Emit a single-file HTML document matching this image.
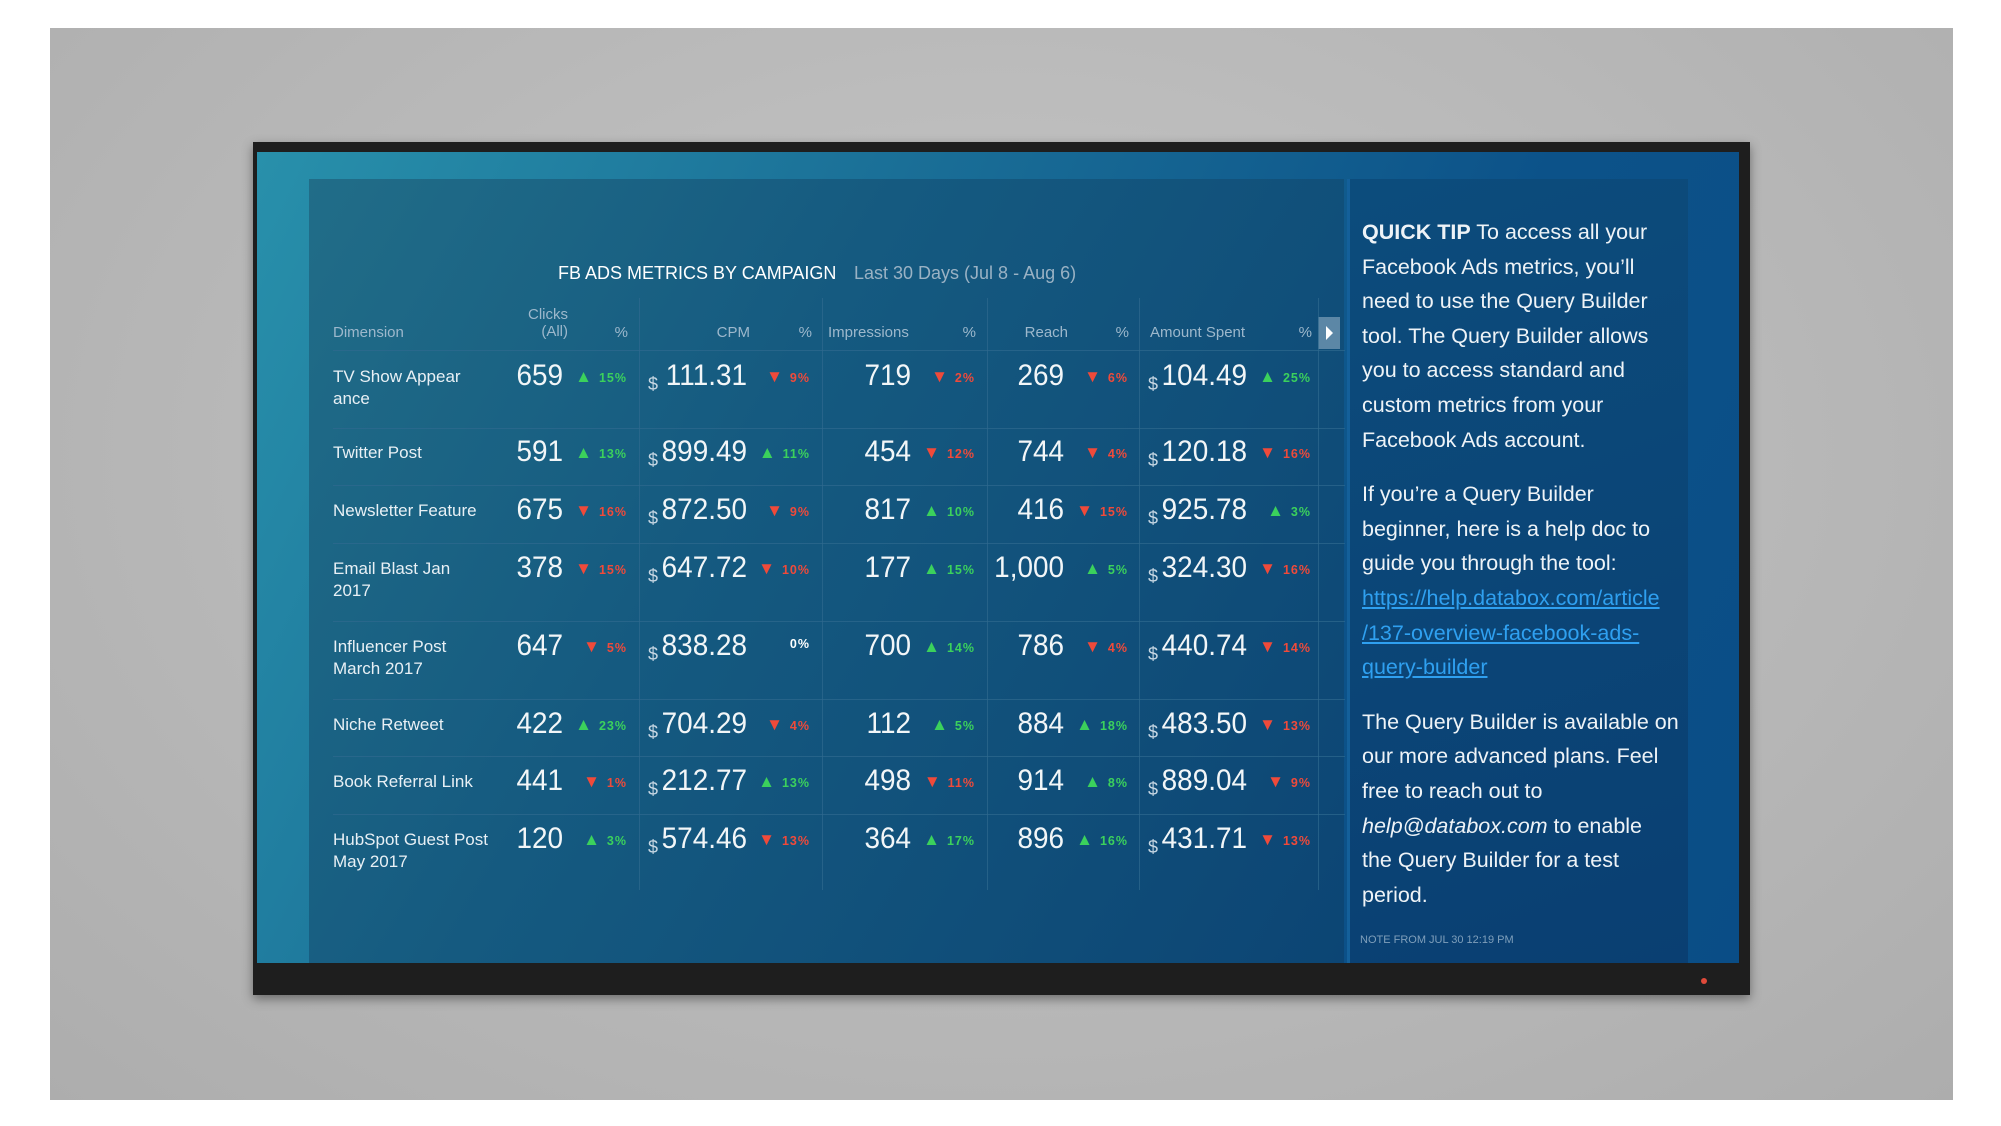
<!DOCTYPE html>
<html><head><meta charset="utf-8"><style>
*{margin:0;padding:0;box-sizing:border-box}
body{width:2001px;height:1126px;background:#fff;position:relative;overflow:hidden;font-family:"Liberation Sans",sans-serif}
.a{position:absolute}
#wall{left:50px;top:28px;width:1903px;height:1072px;background:radial-gradient(ellipse at 50% 40%,#c6c6c6,#adadad)}
#frame{left:253px;top:142px;width:1497px;height:853px;background:#1e1e1e;box-shadow:0 4px 10px rgba(0,0,0,.4)}
#screen{left:257px;top:152px;width:1482px;height:811px;background:linear-gradient(115deg,#2890ab 0%,#1a6f97 35%,#0c5289 70%,#0a4d86 100%)}
#panel{left:309px;top:179px;width:1035px;height:784px;background:linear-gradient(120deg,#216d88 0%,#155a80 40%,#0c4574 100%)}
#tip{left:1347px;top:179px;width:341px;height:784px;background:linear-gradient(160deg,#0c4c7c,#0a3f72);border-left:3px solid #14609a}
.t{color:#fff;white-space:nowrap}
.h{color:#9db8cc;font-size:15px}
.d{color:#e8f0f5;font-size:17px;line-height:22px}
.n{color:#f2f6f8;font-size:30px;text-align:right;transform:scaleX(.93);transform-origin:right center}
.p{font-size:12.5px;font-weight:bold;text-align:right;letter-spacing:1px}
.g{color:#3bd15c}.r{color:#f04a3a}.w{color:#fff}
.s{color:#c8d8e4;font-size:18px}
.hl{background:#2f6a8e;height:1px;opacity:.7}
.vl{background:#2f6a8e;width:1px;opacity:.7}
#tiptext{left:1362px;top:215px;width:330px;color:#eef3f7;font-size:21.5px;line-height:34.6px;white-space:nowrap}
#tiptext p{margin-bottom:20px}
#tiptext a{color:#2fa0f0;text-decoration:underline}
</style></head><body>
<div id="wall" class="a"></div>
<div id="frame" class="a"></div>
<div id="screen" class="a"></div>
<div id="panel" class="a"></div>
<div id="tip" class="a"></div>
<div class="a" style="left:1701px;top:978px;width:6px;height:6px;border-radius:3px;background:#e04a3a"></div>

<div class="a t" style="left:558px;top:263px;font-size:18px">FB ADS METRICS BY CAMPAIGN</div>
<div class="a t" style="left:854px;top:263px;font-size:18px;color:#9ab2c4">Last 30 Days (Jul 8 - Aug 6)</div>

<div class="a h" style="left:333px;top:324px">Dimension</div>
<div class="a h" style="left:510px;top:306px;width:58px;text-align:right;line-height:17px">Clicks<br>(All)</div>
<div class="a h" style="left:610px;top:324px;width:18px;text-align:right">%</div>
<div class="a h" style="left:700px;top:324px;width:50px;text-align:right">CPM</div>
<div class="a h" style="left:794px;top:324px;width:18px;text-align:right">%</div>
<div class="a h" style="left:828px;top:324px">Impressions</div>
<div class="a h" style="left:958px;top:324px;width:18px;text-align:right">%</div>
<div class="a h" style="left:1010px;top:324px;width:58px;text-align:right">Reach</div>
<div class="a h" style="left:1111px;top:324px;width:18px;text-align:right">%</div>
<div class="a h" style="left:1150px;top:324px">Amount Spent</div>
<div class="a h" style="left:1294px;top:324px;width:18px;text-align:right">%</div>
<div class="a" style="left:1318px;top:317px;width:22px;height:32px;background:#5c87a6"></div>
<div class="a" style="left:1326px;top:326px;width:0;height:0;border-top:7px solid transparent;border-bottom:7px solid transparent;border-left:7px solid #fff"></div>

<div class="a hl" style="left:333px;top:350px;width:1012px"></div>
<div class="a hl" style="left:333px;top:428px;width:1012px"></div>
<div class="a hl" style="left:333px;top:485px;width:1012px"></div>
<div class="a hl" style="left:333px;top:543px;width:1012px"></div>
<div class="a hl" style="left:333px;top:621px;width:1012px"></div>
<div class="a hl" style="left:333px;top:699px;width:1012px"></div>
<div class="a hl" style="left:333px;top:756px;width:1012px"></div>
<div class="a hl" style="left:333px;top:814px;width:1012px"></div>
<div class="a vl" style="left:639px;top:298px;height:592px"></div>
<div class="a vl" style="left:822px;top:298px;height:592px"></div>
<div class="a vl" style="left:987px;top:298px;height:592px"></div>
<div class="a vl" style="left:1139px;top:298px;height:592px"></div>
<div class="a vl" style="left:1318px;top:298px;height:592px"></div>

<div id="rows"></div>
<script>
var R=[
["TV Show Appear<br>ance",378,"659","g","15%","111.31","r","9%","719","r","2%","269","r","6%","104.49","g","25%"],
["Twitter Post",454,"591","g","13%","899.49","g","11%","454","r","12%","744","r","4%","120.18","r","16%"],
["Newsletter Feature",512,"675","r","16%","872.50","r","9%","817","g","10%","416","r","15%","925.78","g","3%"],
["Email Blast Jan<br>2017",570,"378","r","15%","647.72","r","10%","177","g","15%","1,000","g","5%","324.30","r","16%"],
["Influencer Post<br>March 2017",648,"647","r","5%","838.28","w","0%","700","g","14%","786","r","4%","440.74","r","14%"],
["Niche Retweet",726,"422","g","23%","704.29","r","4%","112","g","5%","884","g","18%","483.50","r","13%"],
["Book Referral Link",783,"441","r","1%","212.77","g","13%","498","r","11%","914","g","8%","889.04","r","9%"],
["HubSpot Guest Post<br>May 2017",841,"120","g","3%","574.46","r","13%","364","g","17%","896","g","16%","431.71","r","13%"]];
var h="";
function pct(c,v,right,y){var a=c=="g"?"▲":(c=="r"?"▼":"");return '<div class="a t p '+c+'" style="left:'+(right-80)+'px;top:'+(y+1)+'px;width:80px">'+(a?'<span style="font-size:17px;margin-right:6px">'+a+'</span>':'')+v+'</div>';}
R.forEach(function(r){var y=r[1];
h+='<div class="a t d" style="left:333px;top:'+(y-12)+'px">'+r[0]+'</div>';
var ny=y-19;
h+='<div class="a t n" style="left:463px;top:'+ny+'px;width:100px">'+r[2]+'</div>'+pct(r[3],r[4],627,y-12);
h+='<div class="a t s" style="left:648px;top:'+(y-4)+'px">$</div><div class="a t n" style="left:600px;top:'+ny+'px;width:147px">'+r[5]+'</div>'+pct(r[6],r[7],810,y-12);
h+='<div class="a t n" style="left:810px;top:'+ny+'px;width:101px">'+r[8]+'</div>'+pct(r[9],r[10],975,y-12);
h+='<div class="a t n" style="left:960px;top:'+ny+'px;width:104px">'+r[11]+'</div>'+pct(r[12],r[13],1128,y-12);
h+='<div class="a t s" style="left:1148px;top:'+(y-4)+'px">$</div><div class="a t n" style="left:1100px;top:'+ny+'px;width:147px">'+r[14]+'</div>'+pct(r[15],r[16],1311,y-12);
});
document.getElementById("rows").innerHTML=h;
</script>

<div id="tiptext" class="a">
<p><b>QUICK TIP</b> To access all your<br>Facebook Ads metrics, you’ll<br>need to use the Query Builder<br>tool. The Query Builder allows<br>you to access standard and<br>custom metrics from your<br>Facebook Ads account.</p>
<p>If you’re a Query Builder<br>beginner, here is a help doc to<br>guide you through the tool:<br><a>https://help.databox.com/article<br>/137-overview-facebook-ads-<br>query-builder</a></p>
<p>The Query Builder is available on<br>our more advanced plans. Feel<br>free to reach out to<br><i>help@databox.com</i> to enable<br>the Query Builder for a test<br>period.</p>
</div>
<div class="a t" style="left:1360px;top:934px;font-size:11px;color:#7f9fbb">NOTE FROM JUL 30 12:19 PM</div>
</body></html>
